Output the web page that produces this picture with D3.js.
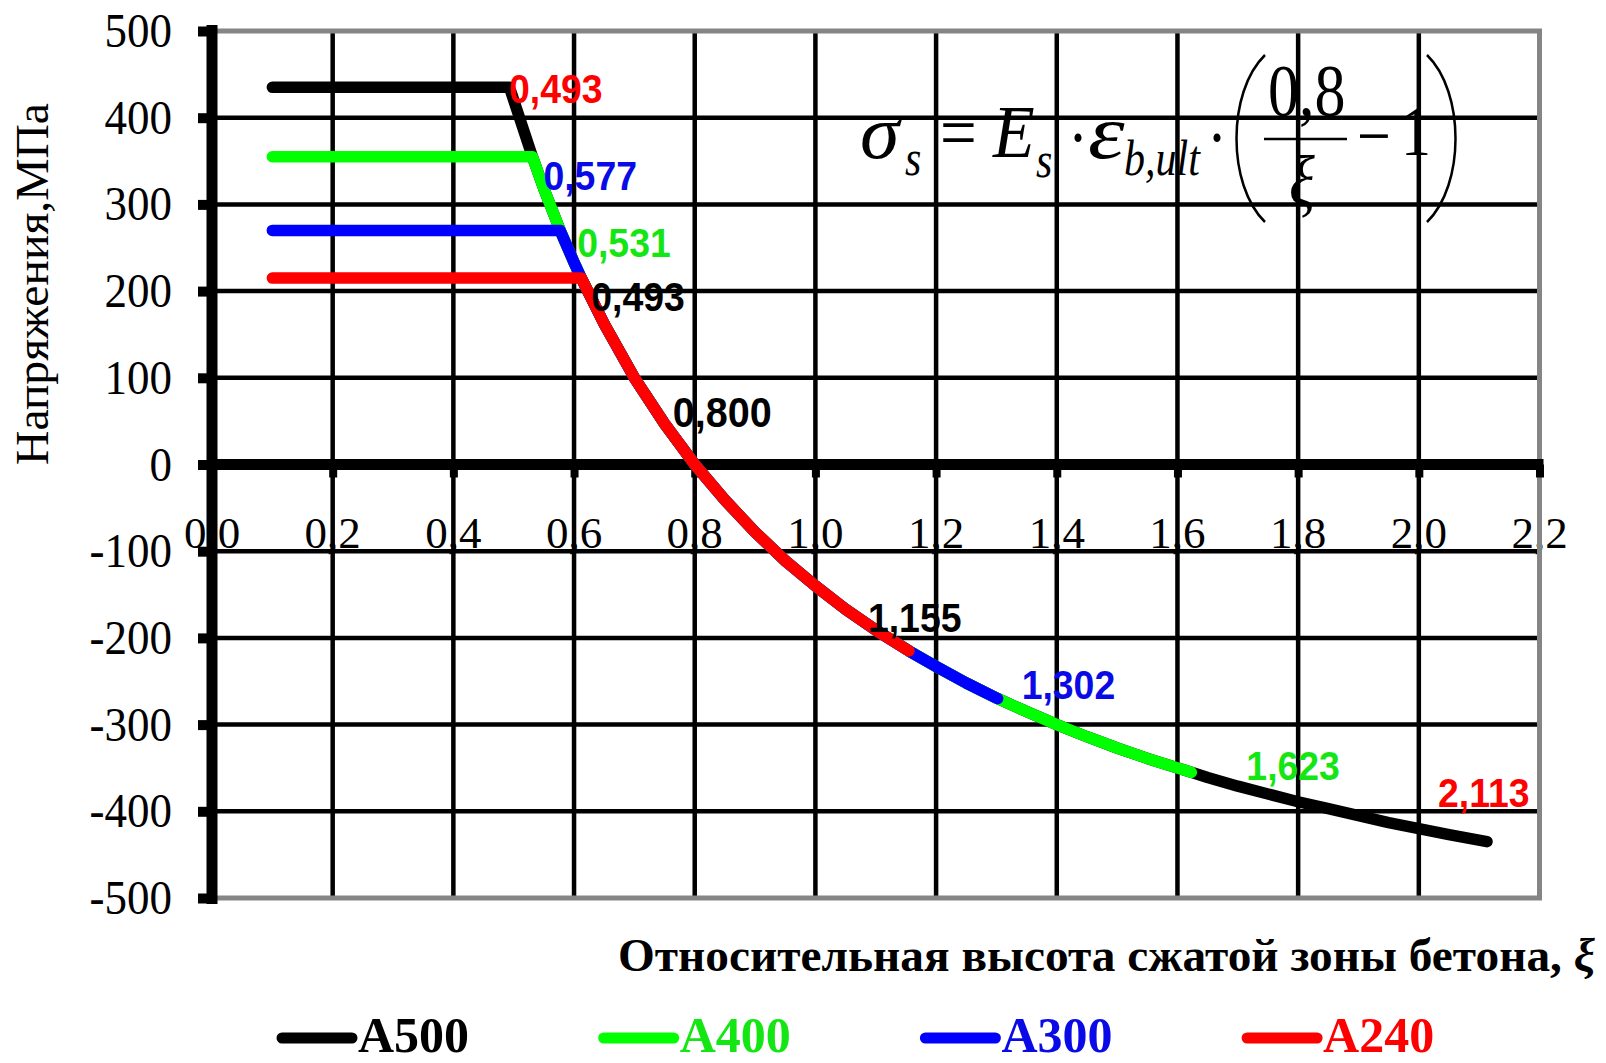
<!DOCTYPE html>
<html>
<head>
<meta charset="utf-8">
<script src="https://cdn.jsdelivr.net/npm/d3@7"></script>
<style>
  html, body { margin: 0; padding: 0; background: #fff; }
  svg { display: block; }
</style>
</head>
<body>
<svg id="chart" width="1606" height="1063"></svg>
<script>
// Reinforcement grades and their design yield stress, MPa
const gradeNames = ["A500", "A400", "A300", "A240"];
const yieldStress = [435, 355, 270, 215];
// Relative height of the compressed zone at yield (tension) and at yield (compression)
const xiYieldTension = [0.493, 0.531, 0.577, 0.612];
const xiYieldCompression = [2.113, 1.623, 1.302, 1.155];
// Start of the yield plateau on the ξ axis
const plateauStart = 0.1;

// Stress in the bar vs. relative height of the compressed zone
const curveXi = [0.493, 0.531, 0.55, 0.577, 0.60, 0.612, 0.65, 0.70, 0.75, 0.80,
  0.85, 0.90, 0.95, 1.00, 1.05, 1.10, 1.155, 1.20, 1.25, 1.302,
  1.35, 1.40, 1.45, 1.50, 1.55, 1.623, 1.65, 1.70, 1.75, 1.80,
  1.85, 1.90, 1.95, 2.00, 2.05, 2.113];
const curveSigma = [435, 355, 318, 270, 233, 215, 162, 100, 47, 0,
  -41, -78, -111, -140, -167, -191, -215, -233, -252, -270,
  -285, -300, -314, -327, -339, -355, -361, -371, -380, -389,
  -397, -405, -413, -420, -427, -435];

// Axis ticks
const xTicks = [0, 0.2, 0.4, 0.6, 0.8, 1.0, 1.2, 1.4, 1.6, 1.8, 2.0, 2.2];
const xTickLabels = ["0,0", "0,2", "0,4", "0,6", "0,8", "1,0", "1,2", "1,4", "1,6", "1,8", "2,0", "2,2"];
const yTicks = [500, 400, 300, 200, 100, 0, -100, -200, -300, -400, -500];
const yTickLabels = ["500", "400", "300", "200", "100", "0", "-100", "-200", "-300", "-400", "-500"];

// Point annotations: text and the curve point they sit next to
const pointLabelText = ["0,493", "0,577", "0,531", "0,493", "0,800", "1,155", "1,302", "1,623", "2,113"];
const pointLabelAtXi = [0.493, 0.531, 0.577, 0.612, 0.800, 1.155, 1.302, 1.623, 2.113];

// ---- styling ----
const gradeColors = ["#000000", "#00ff00", "#0000ff", "#ff0000"];
const gradeTextColors = ["#000000", "#14e614", "#0a0ae6", "#ff0000"];
const pointLabelColors = ["#ff0000", "#0a0ae6", "#14e614", "#000000", "#000000", "#000000", "#0a0ae6", "#14e614", "#ff0000"];
const pointLabelOffsets = [[-0.5, 16], [11, 33], [17, 27], [10, 33], [-22, -38], [-41, -19], [24, 0], [55, 8], [-49, -35]];
const pointLabelSizes = [34, 34, 34, 34, 36, 34, 34, 34, 34];

const svg = d3.select("#chart");
const x = d3.scaleLinear().domain([0, 2.2]).range([212, 1539.5]);
const y = d3.scaleLinear().domain([-500, 500]).range([898, 31]);

const serif = "'Liberation Serif', 'Times New Roman', serif";
const sans = "'Liberation Sans', Arial, sans-serif";

// x tick labels (drawn beneath the grid so the lines cross the decimal comma)
svg.append("g").selectAll("text").data(xTicks).join("text")
  .attr("x", d => x(d))
  .attr("y", 548)
  .attr("text-anchor", "middle")
  .attr("font-family", serif)
  .attr("font-size", 45)
  .text((d, i) => xTickLabels[i]);

// grid
const grid = svg.append("g");
grid.selectAll("line.v").data(xTicks.slice(1, -1)).join("line")
  .attr("x1", d => x(d)).attr("x2", d => x(d))
  .attr("y1", y(500)).attr("y2", y(-500))
  .attr("stroke", "#000").attr("stroke-width", 4.5);
grid.selectAll("line.h").data(yTicks.slice(1, -1)).join("line")
  .attr("x1", x(0)).attr("x2", x(2.2))
  .attr("y1", d => y(d)).attr("y2", d => y(d))
  .attr("stroke", "#000").attr("stroke-width", 4.5);

// plot frame (grey)
const frame = svg.append("g").attr("stroke", "#858585").attr("stroke-width", 5).attr("fill", "none");
frame.append("line").attr("x1", x(0)).attr("x2", x(2.2) + 2.5).attr("y1", y(500)).attr("y2", y(500));
frame.append("line").attr("x1", x(0)).attr("x2", x(2.2) + 2.5).attr("y1", y(-500)).attr("y2", y(-500));
frame.append("line").attr("x1", x(2.2)).attr("x2", x(2.2)).attr("y1", y(500)).attr("y2", y(-500));

// y axis: thick line with short outward ticks
const yAxis = d3.axisLeft(y).tickValues(yTicks).tickSize(14).tickFormat("");
const gy = svg.append("g").attr("transform", `translate(${x(0)},0)`).call(yAxis);
gy.select(".domain").attr("stroke", "#000").attr("stroke-width", 11)
  .attr("d", `M0,${y(500) - 6}V${y(-500) + 6}`);
gy.selectAll(".tick line").attr("stroke", "#000").attr("stroke-width", 10);

// x axis along zero stress
const xAxis = d3.axisBottom(x).tickValues(xTicks).tickSize(13).tickFormat("");
const gx = svg.append("g").attr("transform", `translate(0,${y(0)})`).call(xAxis);
gx.select(".domain").attr("stroke", "#000").attr("stroke-width", 11)
  .attr("d", `M${x(0)},0H${x(2.2) + 4}`);
gx.selectAll(".tick line").attr("stroke", "#000").attr("stroke-width", 8);

// y tick labels
svg.append("g").selectAll("text").data(yTicks).join("text")
  .attr("transform", d => `translate(172,${y(d) + 16}) scale(1,1.1)`)
  .attr("text-anchor", "end")
  .attr("font-family", serif)
  .attr("font-size", 45)
  .text((d, i) => yTickLabels[i]);

// series: yield plateau followed by the σ(ξ) branch
const line = d3.line().x(d => x(d[0])).y(d => y(d[1]));
const seriesData = gradeNames.map((name, i) => {
  const pts = [[plateauStart, yieldStress[i]]];
  curveXi.forEach((xi, j) => {
    if (xi >= xiYieldTension[i] - 1e-9 && xi <= xiYieldCompression[i] + 1e-9) pts.push([xi, curveSigma[j]]);
  });
  return pts;
});
svg.append("g").selectAll("path").data(seriesData).join("path")
  .attr("d", line)
  .attr("fill", "none")
  .attr("stroke", (d, i) => gradeColors[i])
  .attr("stroke-width", 11.5)
  .attr("stroke-linecap", "round")
  .attr("stroke-linejoin", "round");

// point annotations
const sigmaAt = xi => curveSigma[curveXi.indexOf(xi)];
svg.append("g").selectAll("text").data(pointLabelText).join("text")
  .attr("transform", (d, i) => {
    const px = x(pointLabelAtXi[i]) + pointLabelOffsets[i][0];
    const py = y(sigmaAt(pointLabelAtXi[i])) + pointLabelOffsets[i][1];
    return `translate(${px},${py}) scale(1.1,1.17)`;
  })
  .attr("font-family", sans)
  .attr("font-weight", "bold")
  .attr("font-size", (d, i) => pointLabelSizes[i])
  .attr("fill", (d, i) => pointLabelColors[i])
  .text(d => d);

// formula σs = Es·εb,ult·(0,8/ξ − 1)
const f = svg.append("g").attr("font-family", serif).attr("fill", "#000");
const ftext = (t, px, py, size, italic, sx) => f.append("text")
  .attr("transform", `translate(${px},${py}) scale(${sx || 1},1.2)`)
  .attr("font-size", size)
  .attr("font-style", italic ? "italic" : "normal").text(t);
ftext("σ", 860, 158, 64, true, 1.25);
ftext("s", 905, 175, 42, true);
ftext("=", 940, 157, 62, false, 1.05);
ftext("E", 993, 157, 62, true, 1.1);
ftext("s", 1036, 177, 42, true);
ftext("·", 1068, 162, 60, false);
ftext("ε", 1088, 158, 64, true, 1.45);
ftext("b,ult", 1124, 175, 42, true);
ftext("·", 1207, 162, 60, false);
ftext("0,8", 1268, 116, 62, false);
ftext("ξ", 1289, 206, 60, true);
ftext("−", 1357, 160, 60, false);
ftext("1", 1401, 155, 60, false);
f.append("line").attr("x1", 1264).attr("x2", 1347).attr("y1", 139).attr("y2", 139)
  .attr("stroke", "#000").attr("stroke-width", 2.5);
f.append("path").attr("d", "M1265,55 C1227,92 1227,185 1265,222")
  .attr("fill", "none").attr("stroke", "#000").attr("stroke-width", 2.5);
f.append("path").attr("d", "M1427,55 C1465,92 1465,185 1427,222")
  .attr("fill", "none").attr("stroke", "#000").attr("stroke-width", 2.5);

// axis titles
svg.append("text")
  .attr("transform", "translate(48,284) rotate(-90)")
  .attr("text-anchor", "middle")
  .attr("font-family", serif)
  .attr("font-size", 46)
  .attr("textLength", 362)
  .attr("lengthAdjust", "spacingAndGlyphs")
  .text("Напряжения,МПа");

const xt = svg.append("text")
  .attr("x", 618).attr("y", 971)
  .attr("font-family", serif)
  .attr("font-weight", "bold")
  .attr("font-size", 47)
  .attr("textLength", 977)
  .attr("lengthAdjust", "spacingAndGlyphs");
xt.append("tspan").text("Относительная высота сжатой зоны бетона, ");
xt.append("tspan").attr("font-style", "italic").text("ξ");

// legend
const legend = svg.append("g").selectAll("g").data(gradeNames).join("g")
  .attr("transform", (d, i) => `translate(${282 + i * 321.7},0)`);
legend.append("line")
  .attr("x1", 0).attr("x2", 70).attr("y1", 1038).attr("y2", 1038)
  .attr("stroke", (d, i) => gradeColors[i])
  .attr("stroke-width", 11)
  .attr("stroke-linecap", "round");
legend.append("text")
  .attr("x", 76).attr("y", 1052)
  .attr("font-family", serif)
  .attr("font-weight", "bold")
  .attr("font-size", 50)
  .attr("fill", (d, i) => gradeTextColors[i])
  .text(d => d);
</script>
</body>
</html>
